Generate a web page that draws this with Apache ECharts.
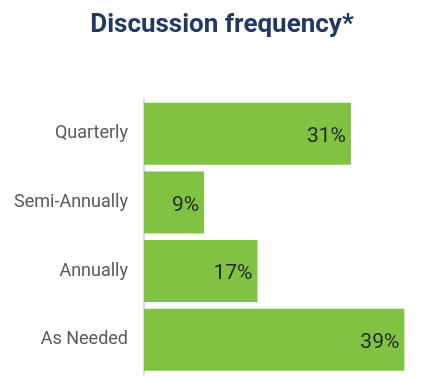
<!DOCTYPE html>
<html><head><meta charset="utf-8">
<script src="https://cdn.jsdelivr.net/npm/echarts@6/dist/echarts.min.js"></script>
<style>html,body{margin:0;padding:0;background:#fff}#c{width:444px;height:381px}</style>
</head><body><div id="c"></div>
<script>
const categories = ["Quarterly", "Semi-Annually", "Annually", "As Needed"];
const values = [31, 9, 17, 39];
const titleText = "Discussion frequency*";

const chart = echarts.init(document.getElementById('c'), null, {renderer: 'canvas'});
chart.setOption({
  animation: false,
  title: {
    text: titleText, left: 'center', top: 7,
    textStyle: {fontFamily: 'Roboto', fontWeight: 'bold', fontSize: 26, color: '#203864'}
  },
  grid: {left: 144, right: 33, top: 99.5, bottom: 7, containLabel: false},
  xAxis: {type: 'value', min: 0, max: 40, show: false},
  yAxis: {
    type: 'category', data: categories, inverse: true,
    axisLine: {show: true, lineStyle: {color: '#d9d9d9', width: 2}},
    axisTick: {show: false},
    axisLabel: {fontFamily: 'Roboto', fontSize: 18, color: '#595959', margin: 16, padding: [4, 0, 0, 0]}
  },
  series: [{
    type: 'bar', data: values, barCategoryGap: '9.5%',
    itemStyle: {color: '#80C342'},
    label: {show: true, position: 'insideRight', distance: 5, formatter: '{c}%',
      fontFamily: 'Roboto', fontSize: 21, color: '#262626', offset: [0, 3]}
  }]
});
</script></body></html>
